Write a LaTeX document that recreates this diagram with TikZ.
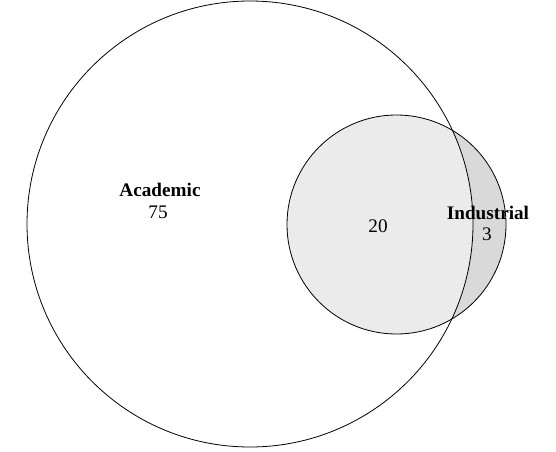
\documentclass[tikz,border=0pt]{standalone}
\usepackage{fontspec}
\setmainfont{Liberation Serif}

\begin{document}
\begin{tikzpicture}[x=0.5pt,y=0.5pt,
    setname/.style={font=\fontsize{9.6}{10}\selectfont\bfseries,inner sep=1pt},
    setnum/.style={font=\fontsize{9.6}{10}\selectfont,inner sep=1pt}]
  \useasboundingbox (0,0) rectangle (556,451);
  \coordinate (acad) at (250,227);
  \coordinate (ind) at (396.5,226.5);
  % shaded parts
  \fill[black!15] (ind) circle (109.5);
  \begin{scope}
    \clip (acad) circle (223);
    \fill[black!8] (ind) circle (109.5);
  \end{scope}
  \draw[thin] (acad) circle (223);
  \draw[thin] (ind) circle (109.5);
  % labels
  \node[setname] (acadname) at (160,261) {Academic};
  \node[setnum] (acadnum) at (158,239) {75};
  \node[setnum] (bothnum) at (378,225) {20};
  \node[setname] (indname) at (488,238) {Industrial};
  \node[setnum] (indnum) at (487,217) {3};
\end{tikzpicture}
\end{document}
